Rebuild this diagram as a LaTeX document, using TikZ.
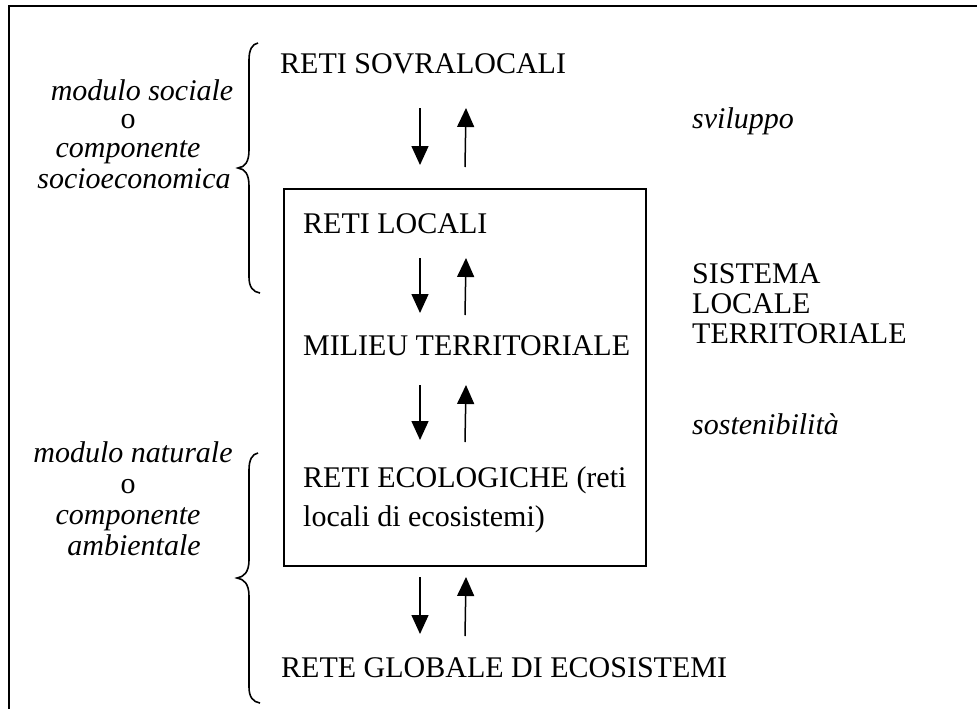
\documentclass[tikz,border=0pt]{standalone}
\usepackage{fontspec}
\setmainfont{Liberation Serif}
\usetikzlibrary{arrows.meta}
\begin{document}
\begin{tikzpicture}[x=1pt,y=-1pt,
  txt/.style={anchor=base west, inner sep=0pt, font=\fontsize{30}{31}\selectfont},
  itx/.style={anchor=base west, inner sep=0pt, font=\fontsize{30}{31}\selectfont\itshape},
  ltx/.style={anchor=base, inner sep=0pt, font=\fontsize{30}{31}\selectfont\itshape},
  lup/.style={anchor=base, inner sep=0pt, font=\fontsize{30}{31}\selectfont},
  flow/.style={line width=1.5pt, -{Triangle[length=19pt,width=17pt]}},
  framed/.style={line width=2pt},
  brace/.style={line width=1.6pt}]
\useasboundingbox (0,0) rectangle (977,709);
\clip (0,0) rectangle (977,709);
% outer frame (extends past right and bottom)
\draw[framed] (9,730) -- (9,6) -- (995,6);
% inner box
\node[draw, framed, minimum width=362pt, minimum height=377pt, inner sep=0pt, anchor=north west] (box) at (283,188) {};
% central texts
\node[txt] (sovra) at (280,74) {RETI SOVRALOCALI};
\node[txt] (locali) at (303,233) {RETI LOCALI};
\node[txt] (milieu) at (303,355) {MILIEU TERRITORIALE};
\node[txt] (ecol1) at (303,487) {RETI ECOLOGICHE (reti};
\node[txt] (ecol2) at (303,526) {locali di ecosistemi)};
\node[txt] (globale) at (281,677) {RETE GLOBALE DI ECOSISTEMI};
% right texts
\node[itx] (svil) at (692,128) {sviluppo};
\node[txt] (sis1) at (692,283) {SISTEMA};
\node[txt] (sis2) at (692,313) {LOCALE};
\node[txt] (sis3) at (692,343) {TERRITORIALE};
\node[itx] (sost) at (692,434) {sostenibilità};
% left texts
\node[ltx] (ms) at (142,100) {modulo sociale};
\node[lup] (o1) at (128,128) {o};
\node[ltx] (cp1) at (128,157) {componente};
\node[ltx] (se) at (134,188) {socioeconomica};
\node[ltx] (mn) at (133,462) {modulo naturale};
\node[lup] (o2) at (128,493) {o};
\node[ltx] (cp2) at (128,524) {componente};
\node[ltx] (amb) at (134,555) {ambientale};
% braces
\draw[brace] (258,43) .. controls (252,44) and (249,50) .. (249,60) -- (249,150)
  .. controls (249,162) and (245,167) .. (238,168)
  .. controls (245,169) and (249,174) .. (249,186) -- (249,277)
  .. controls (249,287) and (253,292) .. (260,293);
\draw[brace] (258,453) .. controls (252,454) and (249,460) .. (249,470) -- (249,560)
  .. controls (249,572) and (244,577) .. (237,578)
  .. controls (244,579) and (249,584) .. (249,596) -- (249,687)
  .. controls (249,697) and (253,702) .. (260,703);
% arrows
\foreach \i/\t/\b in {1/108/165, 2/258/313, 3/385/440, 4/577/634}{
  \coordinate (d\i s) at (420,\t);
  \coordinate (d\i e) at (420,\b);
  \coordinate (u\i s) at (465,\b+2);
  \coordinate (u\i e) at (466,\t);
}
\foreach \i in {1,2,3,4}{
  \draw[flow] (d\i s) -- (d\i e);
  \draw[flow] (u\i s) -- (u\i e);
}
\end{tikzpicture}
\end{document}
